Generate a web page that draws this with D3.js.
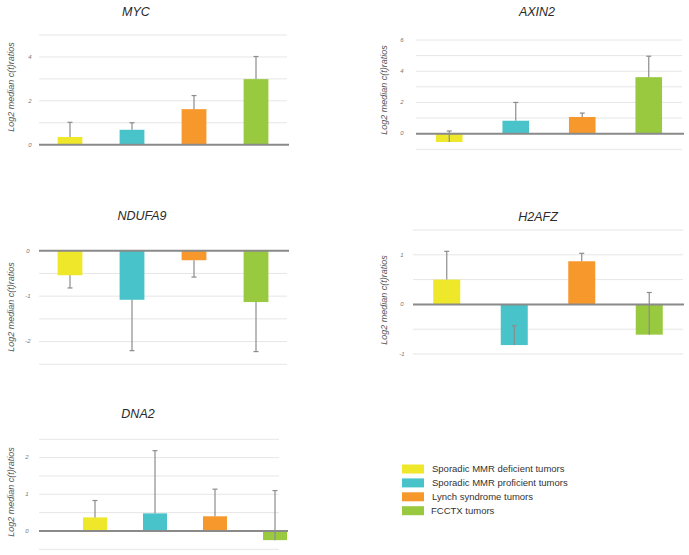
<!DOCTYPE html>
<html><head><meta charset="utf-8">
<script src="https://cdn.jsdelivr.net/npm/d3@7"></script>
<style>
body{margin:0;background:#fff;}
svg{display:block;font-family:"Liberation Sans",Arial,sans-serif;}
</style></head>
<body><svg id="chart" width="689" height="555"></svg>
<script>
const groups = ["Sporadic MMR deficient tumors","Sporadic MMR proficient tumors","Lynch syndrome tumors","FCCTX tumors"];
const colors = ["#efe82a","#47c3c9","#f7982c","#98c93f"];
const genes = ["MYC","AXIN2","NDUFA9","H2AFZ","DNA2"];

const mycValues    = [0.35, 0.68, 1.62, 2.99];
const mycErrEnd    = [1.02, 1.00, 2.24, 4.02];
const axin2Values  = [-0.53, 0.83, 1.07, 3.62];
const axin2ErrEnd  = [0.17, 2.00, 1.32, 4.96];
const ndufa9Values = [-0.54, -1.08, -0.21, -1.13];
const ndufa9ErrEnd = [-0.82, -2.20, -0.58, -2.22];
const h2afzValues  = [0.50, -0.82, 0.87, -0.61];
const h2afzErrEnd  = [1.07, -0.43, 1.03, 0.24];
const dna2Values   = [0.37, 0.48, 0.40, -0.25];
const dna2ErrEnd   = [0.83, 2.19, 1.14, 1.10];

const mycTicks = [0, 2, 4];
const axin2Ticks = [0, 2, 4, 6];
const ndufa9Ticks = [0, -1, -2];
const h2afzTicks = [1, 0, -1];
const dna2Ticks = [2, 1, 0];

const yTitle = "Log2 median c(t)ratios";

// layout (positions only)
const panels = [
  {gene:"MYC", values:mycValues, err:mycErrEnd, ticks:mycTicks, domain:[0,5], step:1,
   yr:[144.7,35], gx:[39,287], bx:[39,287], base:[39,289], tickX:30, title:[136,15.5], yt:[11,87]},
  {gene:"AXIN2", values:axin2Values, err:axin2ErrEnd, ticks:axin2Ticks, domain:[-1,6], step:1,
   yr:[149.3,40], gx:[416,682], bx:[416,682], base:[416,684], tickX:402, title:[537,16], yt:[384,90]},
  {gene:"NDUFA9", values:ndufa9Values, err:ndufa9ErrEnd, ticks:ndufa9Ticks, domain:[-2.5,0], step:0.5,
   yr:[364.3,250.7], gx:[39,287], bx:[39,287], base:[39,289], tickX:28, title:[142,219.5], yt:[11,307]},
  {gene:"H2AFZ", values:h2afzValues, err:h2afzErrEnd, ticks:h2afzTicks, domain:[-1,1.5], step:0.5,
   yr:[354,230], gx:[413,683], bx:[413,683], base:[413,684], tickX:402, title:[538,220.5], yt:[384,300]},
  {gene:"DNA2", values:dna2Values, err:dna2ErrEnd, ticks:dna2Ticks, domain:[-0.5,2.5], step:0.5,
   yr:[549.3,439.3], gx:[39,279], bx:[65,305], base:[39,288], tickX:27, title:[138,417.5], yt:[11,492]}
];

const svg = d3.select("#chart");

panels.forEach(p => {
  const g = svg.append("g");
  const y = d3.scaleLinear().domain(p.domain).range(p.yr);
  const x = d3.scaleBand().domain(groups).range(p.bx);
  const bw = x.bandwidth() * 0.4;

  const gridVals = d3.range(p.domain[0], p.domain[1] + p.step/2, p.step);
  g.selectAll("line.grid").data(gridVals).join("line")
    .attr("x1", p.gx[0]).attr("x2", p.gx[1])
    .attr("y1", d => y(d)).attr("y2", d => y(d))
    .attr("stroke", "#e6e6e6").attr("stroke-width", 1);

  g.selectAll("text.tick").data(p.ticks).join("text")
    .attr("x", p.tickX).attr("y", d => y(d)).attr("dy", "0.3em")
    .attr("text-anchor", "middle")
    .attr("font-size", 6).attr("font-style", "italic").attr("fill", "#777")
    .text(d => d);

  const data = p.values.map((v, i) => ({grp: groups[i], v, e: p.err[i], c: colors[i]}));
  g.selectAll("rect.bar").data(data).join("rect")
    .attr("x", d => x(d.grp) + (x.bandwidth() - bw) / 2)
    .attr("width", bw)
    .attr("y", d => Math.min(y(d.v), y(0)))
    .attr("height", d => Math.abs(y(d.v) - y(0)))
    .attr("fill", d => d.c);

  g.append("line")
    .attr("x1", p.base[0]).attr("x2", p.base[1])
    .attr("y1", y(0)).attr("y2", y(0))
    .attr("stroke", "#8a8a8a").attr("stroke-width", 2);

  const eg = g.selectAll("g.err").data(data).join("g");
  eg.append("line")
    .attr("x1", d => x(d.grp) + x.bandwidth()/2).attr("x2", d => x(d.grp) + x.bandwidth()/2)
    .attr("y1", d => y(d.v)).attr("y2", d => y(d.e))
    .attr("stroke", "#8c8c8c").attr("stroke-width", 1.2);
  eg.append("line")
    .attr("x1", d => x(d.grp) + x.bandwidth()/2 - 2.5).attr("x2", d => x(d.grp) + x.bandwidth()/2 + 2.5)
    .attr("y1", d => y(d.e)).attr("y2", d => y(d.e))
    .attr("stroke", "#8c8c8c").attr("stroke-width", 1.2);

  g.append("text").attr("x", p.title[0]).attr("y", p.title[1])
    .attr("text-anchor", "middle").attr("font-size", 12.5).attr("font-style", "italic")
    .attr("fill", "#2a2a2a").text(p.gene);

  g.append("text")
    .attr("transform", `translate(${p.yt[0]},${p.yt[1]}) rotate(-90)`)
    .attr("text-anchor", "middle").attr("dy", "0.35em")
    .attr("font-size", 9).attr("font-style", "italic").attr("fill", "#555")
    .text(yTitle);
});

const lg = svg.append("g");
const ly = d3.scalePoint().domain(groups).range([469, 510.7]);
groups.forEach((gr, i) => {
  lg.append("rect").attr("x", 402).attr("y", ly(gr) - 4.5).attr("width", 22).attr("height", 9)
    .attr("fill", colors[i]);
  lg.append("text").attr("x", i === 3 ? 431 : 432).attr("y", ly(gr)).attr("dy", "0.35em")
    .attr("font-size", 9.5).attr("fill", "#333").text(gr);
});
</script></body></html>
